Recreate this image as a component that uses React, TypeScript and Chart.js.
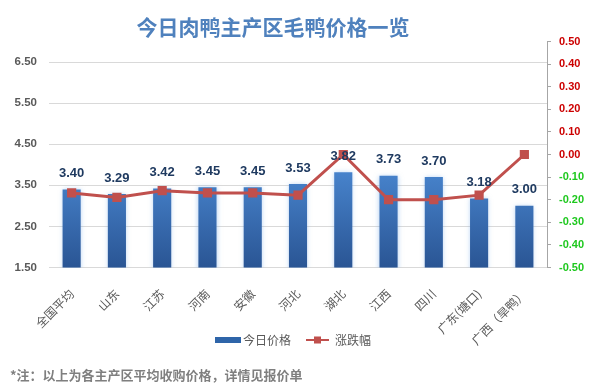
import React, { useEffect, useRef } from 'react';
import { Chart, registerables } from 'chart.js';

Chart.register(...registerables);

const categories = ['全国平均', '山东', '江苏', '河南', '安徽', '河北', '湖北', '江西', '四川', '广东(塘口)', '广西（旱鸭）'];
const prices = [3.40, 3.29, 3.42, 3.45, 3.45, 3.53, 3.82, 3.73, 3.70, 3.18, 3.00];
const changes = [-0.17, -0.19, -0.16, -0.17, -0.17, -0.18, 0.00, -0.20, -0.20, -0.18, 0.00];
const priceTicks = [1.5, 2.5, 3.5, 4.5, 5.5, 6.5];
const changeTicks = [-0.5, -0.4, -0.3, -0.2, -0.1, 0, 0.1, 0.2, 0.3, 0.4, 0.5];
const seriesNames = ['今日价格', '涨跌幅'];
const titleText = '今日肉鸭主产区毛鸭价格一览';
const noteText = '*注：以上为各主产区平均收购价格，详情见报价单';

const CJK = '"Noto Sans CJK SC", "Noto Sans", sans-serif';
const NUM = '"Liberation Sans", Arial, sans-serif';
const LINE_COLOR = '#c0504d';

const decorPlugin = {
  id: 'decor',
  beforeDatasetDraw(chart: any, args: any) {
    if (args.index === 0) {
      const c = chart.ctx;
      c.save();
      c.shadowColor = 'rgba(110,165,230,0.55)';
      c.shadowBlur = 5;
    }
  },
  afterDatasetDraw(chart: any, args: any) {
    if (args.index === 0) chart.ctx.restore();
  },
  afterDatasetsDraw(chart: any) {
    const c = chart.ctx;
    const meta = chart.getDatasetMeta(0);
    c.save();
    c.font = `bold 13px ${NUM}`;
    c.fillStyle = '#1f3a60';
    c.textAlign = 'center';
    c.textBaseline = 'middle';
    meta.data.forEach((bar: any, i: number) => {
      c.fillText(prices[i].toFixed(2), bar.x, bar.y - 16);
    });
    c.restore();
  },
  afterDraw(chart: any) {
    const c = chart.ctx;
    c.save();
    // title
    c.font = `bold 21px ${CJK}`;
    c.fillStyle = '#4f81bd';
    c.textAlign = 'center';
    c.textBaseline = 'middle';
    c.fillText(titleText, 273, 27);

    // legend
    const ly = 340;
    c.font = `12px ${CJK}`;
    c.textAlign = 'left';
    c.fillStyle = '#2f65a9';
    c.fillRect(215, ly - 3, 26, 6);
    c.fillStyle = '#595959';
    c.fillText(seriesNames[0], 243, ly);
    const x2 = 243 + c.measureText(seriesNames[0]).width + 15;
    c.strokeStyle = LINE_COLOR;
    c.lineWidth = 2;
    c.beginPath();
    c.moveTo(x2, ly);
    c.lineTo(x2 + 23, ly);
    c.stroke();
    c.fillStyle = LINE_COLOR;
    c.fillRect(x2 + 11.5 - 3.5, ly - 3.5, 7, 7);
    c.fillStyle = '#595959';
    c.fillText(seriesNames[1], x2 + 29, ly);

    // note
    c.font = `bold 13px ${CJK}`;
    c.fillStyle = '#7f7f7f';
    c.fillText(noteText, 10, 375);
    c.restore();
  },
};

export default function App() {
  const ref = useRef<HTMLCanvasElement>(null);

  useEffect(() => {
    if (!ref.current) return;
    const chart = new Chart(ref.current, {
      type: 'bar',
      data: {
        labels: categories,
        datasets: [
          {
            type: 'bar',
            label: seriesNames[0],
            data: prices,
            yAxisID: 'y',
            order: 1,
            categoryPercentage: 0.8,
            barPercentage: 0.5,
            backgroundColor: (ctx: any) => {
              const area = ctx.chart.chartArea;
              if (!area) return '#3a6fb5';
              const g = ctx.chart.ctx.createLinearGradient(0, area.top + 120, 0, area.bottom);
              g.addColorStop(0, '#4a88d2');
              g.addColorStop(1, '#2a5594');
              return g;
            },
            borderWidth: 0,
          } as any,
          {
            type: 'line',
            label: seriesNames[1],
            data: changes,
            yAxisID: 'y1',
            order: 0,
            borderColor: LINE_COLOR,
            backgroundColor: LINE_COLOR,
            borderWidth: 3,
            pointStyle: 'rect',
            pointRadius: 6.5,
            pointBorderWidth: 0,
            tension: 0,
          } as any,
        ],
      },
      options: {
        responsive: false,
        animation: false,
        layout: { padding: { top: 41.5, bottom: 44.5, left: 0, right: 0 } },
        plugins: {
          legend: { display: false },
          title: { display: false },
          tooltip: { enabled: false },
        },
        scales: {
          x: {
            grid: { display: false, drawTicks: false },
            border: { display: false },
            ticks: {
              autoSkip: false,
              minRotation: 45,
              maxRotation: 45,
              padding: 19,
              color: '#595959',
              font: { family: CJK, size: 12 },
            },
            afterFit: (s: any) => { s.height = 80; },
          },
          y: {
            position: 'left',
            min: 1.5,
            max: 7,
            grid: { color: '#d9d9d9', lineWidth: 1, drawTicks: false },
            border: { display: false },
            ticks: {
              padding: 12,
              color: '#595959',
              font: { family: NUM, size: 11.5, weight: 'bold' },
              callback: (v: any) => Number(v).toFixed(2),
            },
            afterBuildTicks: (s: any) => { s.ticks = priceTicks.map((v) => ({ value: v })); },
            afterFit: (s: any) => { s.width = 49; },
          },
          y1: {
            position: 'right',
            min: -0.5,
            max: 0.5,
            grid: { drawOnChartArea: false, drawTicks: true, tickLength: 4, color: '#a6a6a6' },
            border: { display: true, color: '#a6a6a6' },
            ticks: {
              padding: 8,
              color: (ctx: any) => (ctx.tick && ctx.tick.value < -1e-9 ? '#1ec81e' : '#cc0000'),
              font: { family: NUM, size: 11, weight: 'bold' },
              callback: (v: any) => Number(v).toFixed(2),
            },
            afterBuildTicks: (s: any) => { s.ticks = changeTicks.map((v) => ({ value: v })); },
            afterFit: (s: any) => { s.width = 42; },
          },
        },
      } as any,
      plugins: [decorPlugin],
    });
    return () => chart.destroy();
  }, []);

  return (
    <div style={{ position: 'absolute', left: 0, top: 0, width: 589, height: 392, background: '#fff' }}>
      <canvas ref={ref} width={589} height={392} />
    </div>
  );
}
